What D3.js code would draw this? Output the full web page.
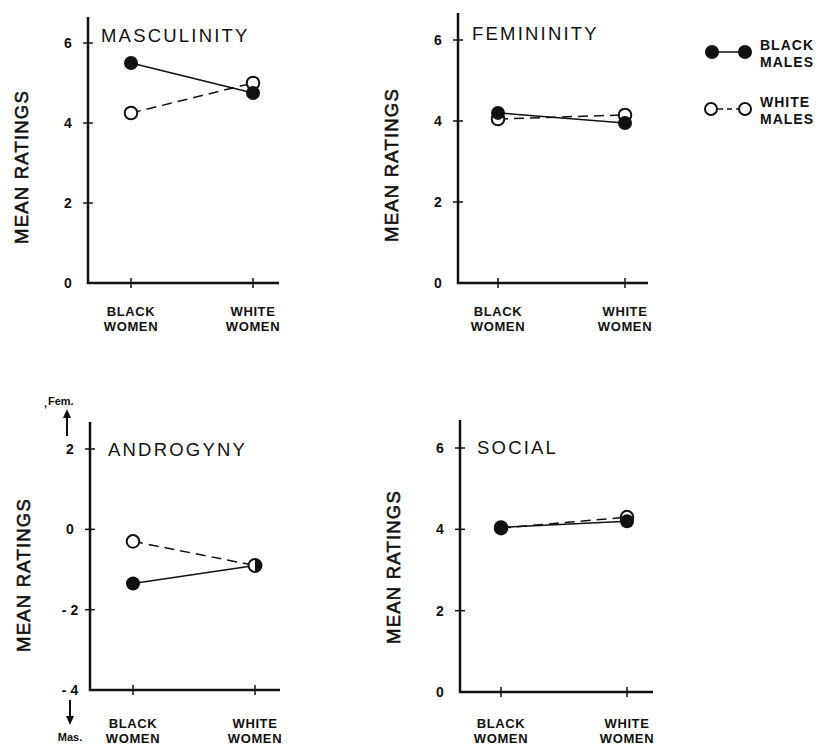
<!DOCTYPE html>
<html><head><meta charset="utf-8">
<script src="https://cdn.jsdelivr.net/npm/d3@7"></script>
<style>body{margin:0;background:#fff}svg{display:block}</style>
</head><body>
<svg id="c" width="820" height="745"></svg>
<script>
const categories = ["BLACK WOMEN", "WHITE WOMEN"];
const seriesNames = ["BLACK MALES", "WHITE MALES"];
const panelTitles = ["MASCULINITY", "FEMININITY", "ANDROGYNY", "SOCIAL"];
const masculinityBlack = [5.5, 4.75];
const masculinityWhite = [4.25, 5.0];
const femininityBlack = [4.2, 3.95];
const femininityWhite = [4.05, 4.15];
const androgynyBlack = [-1.35, -0.9];
const androgynyWhite = [-0.3, -0.9];
const socialBlack = [4.05, 4.2];
const socialWhite = [4.03, 4.3];
const ticksPos = [0, 2, 4, 6];
const ticksAndro = [-4, -2, 0, 2];
const yLabel = "MEAN RATINGS";

const svg = d3.select("#c");
const ink = "#111";
const FONT = "'Liberation Sans', Arial, sans-serif";

const panels = [
  {title: panelTitles[0], black: masculinityBlack, white: masculinityWhite, ticks: ticksPos, dom: [0, 6],
   ax: 88, yr: [283, 43], top: 17, xend: 279, cx: [131, 253], titleX: 101, titleY: 42, labY: 167, labX: 21, catY: 311},
  {title: panelTitles[1], black: femininityBlack, white: femininityWhite, ticks: ticksPos, dom: [0, 6],
   ax: 458, yr: [283, 40], top: 13, xend: 648, cx: [498, 625], titleX: 472, titleY: 40, labY: 165, labX: 391, catY: 311},
  {title: panelTitles[2], black: androgynyBlack, white: androgynyWhite, ticks: ticksAndro, dom: [-4, 2],
   ax: 90, yr: [690, 449], top: 422, xend: 280, cx: [133, 255], titleX: 108, titleY: 456, labY: 575, labX: 23, catY: 723, arrows: true},
  {title: panelTitles[3], black: socialBlack, white: socialWhite, ticks: ticksPos, dom: [0, 6],
   ax: 460, yr: [692, 448], top: 420, xend: 653, cx: [501, 627], titleX: 477, titleY: 454, labY: 567, labX: 393, catY: 723}
];

panels.forEach((p, pi) => {
  const g = svg.append("g");
  const y = d3.scaleLinear().domain(p.dom).range(p.yr);
  const x = d3.scalePoint().domain(categories).range(p.cx);
  const base = p.yr[0];
  g.append("line").attr("x1", p.ax).attr("x2", p.ax).attr("y1", p.top).attr("y2", base + 1)
    .attr("stroke", ink).attr("stroke-width", 2.5);
  g.append("line").attr("x1", p.ax - 1).attr("x2", p.xend).attr("y1", base).attr("y2", base)
    .attr("stroke", ink).attr("stroke-width", 2.5);
  p.ticks.forEach(t => {
    if (t !== p.dom[0]) {
      g.append("line").attr("x1", p.ax - 5).attr("x2", p.ax + 5).attr("y1", y(t)).attr("y2", y(t))
        .attr("stroke", ink).attr("stroke-width", 1.5);
    }
    g.append("text").attr("x", p.ax - 20).attr("y", y(t)).attr("dy", "0.36em")
      .attr("text-anchor", "middle").attr("font-family", FONT).attr("font-weight", "bold")
      .attr("font-size", 14).attr("fill", ink)
      .text(t < 0 ? "- " + Math.abs(t) : String(t));
  });
  categories.forEach(c => {
    g.append("line").attr("x1", x(c)).attr("x2", x(c)).attr("y1", base - 5).attr("y2", base + 5)
      .attr("stroke", ink).attr("stroke-width", 1.5);
    c.split(" ").forEach((w, i) => {
      g.append("text").attr("x", x(c)).attr("y", p.catY + i * 15).attr("dy", "0.36em")
        .attr("text-anchor", "middle").attr("font-family", FONT).attr("font-weight", "bold")
        .attr("font-size", 13).attr("letter-spacing", 0.6).attr("fill", ink).text(w);
    });
  });
  g.append("text").attr("x", p.titleX).attr("y", p.titleY).attr("font-family", FONT)
    .attr("font-size", 18.5).attr("letter-spacing", 2.2).attr("fill", ink).text(p.title);
  g.append("text").attr("transform", `translate(${p.labX},${p.labY}) rotate(-90)`)
    .attr("text-anchor", "middle").attr("dy", "0.36em").attr("font-family", FONT)
    .attr("font-size", 18.5).attr("letter-spacing", 1.2).attr("stroke", ink).attr("stroke-width", 0.6)
    .attr("fill", ink).text(yLabel);

  const line = d3.line().x((d, i) => x(categories[i])).y(d => y(d));
  g.append("path").attr("d", line(p.white)).attr("fill", "none").attr("stroke", ink)
    .attr("stroke-width", 1.5).attr("stroke-dasharray", "10,6");
  g.append("path").attr("d", line(p.black)).attr("fill", "none").attr("stroke", ink)
    .attr("stroke-width", 1.5);
  categories.forEach((c, i) => {
    const same = p.black[i] === p.white[i];
    if (same) {
      const cx = x(c), cy = y(p.black[i]), r = 6.5;
      g.append("circle").attr("cx", cx).attr("cy", cy).attr("r", r).attr("fill", "#fff")
        .attr("stroke", ink).attr("stroke-width", 2);
      g.append("path").attr("d", `M${cx},${cy - r} A${r},${r} 0 0 1 ${cx},${cy + r} Z`).attr("fill", ink);
    } else {
      g.append("circle").attr("cx", x(c)).attr("cy", y(p.white[i])).attr("r", 6.3).attr("fill", "#fff")
        .attr("stroke", ink).attr("stroke-width", 2);
    }
  });
  categories.forEach((c, i) => {
    if (p.black[i] !== p.white[i]) {
      g.append("circle").attr("cx", x(c)).attr("cy", y(p.black[i])).attr("r", 7).attr("fill", ink);
    }
  });

  if (p.arrows) {
    g.append("text").attr("x", 44).attr("y", 407).attr("font-family", FONT).attr("font-size", 11)
      .attr("font-weight", "bold").attr("fill", ink).text(",");
    g.append("text").attr("x", 48).attr("y", 405).attr("font-family", FONT).attr("font-size", 11)
      .attr("font-weight", "bold").attr("fill", ink).text("Fem.");
    g.append("line").attr("x1", 67).attr("x2", 67).attr("y1", 436).attr("y2", 416).attr("stroke", ink).attr("stroke-width", 2);
    g.append("path").attr("d", "M63,418 L67,409 L71,418 Z").attr("fill", ink);
    g.append("line").attr("x1", 70).attr("x2", 70).attr("y1", 700).attr("y2", 718).attr("stroke", ink).attr("stroke-width", 2);
    g.append("path").attr("d", "M66,716 L70,725 L74,716 Z").attr("fill", ink);
    g.append("text").attr("x", 70).attr("y", 741).attr("text-anchor", "middle").attr("font-family", FONT)
      .attr("font-size", 11).attr("font-weight", "bold").attr("fill", ink).text("Mas.");
  }
});

const lg = svg.append("g");
lg.append("line").attr("x1", 712).attr("x2", 745).attr("y1", 52).attr("y2", 52).attr("stroke", ink).attr("stroke-width", 1.5);
[712, 745].forEach(cx => lg.append("circle").attr("cx", cx).attr("cy", 52).attr("r", 7).attr("fill", ink));
lg.append("line").attr("x1", 718).attr("x2", 739).attr("y1", 109).attr("y2", 109).attr("stroke", ink)
  .attr("stroke-width", 1.5).attr("stroke-dasharray", "5,4");
[711, 745].forEach(cx => lg.append("circle").attr("cx", cx).attr("cy", 109).attr("r", 6).attr("fill", "#fff")
  .attr("stroke", ink).attr("stroke-width", 2));
[[seriesNames[0], 45], [seriesNames[1], 102]].forEach(([n, yy]) => {
  n.split(" ").forEach((w, i) => {
    lg.append("text").attr("x", 760).attr("y", yy + i * 17).attr("dy", "0.36em").attr("font-family", FONT)
      .attr("font-weight", "bold").attr("font-size", 14).attr("letter-spacing", 1).attr("fill", ink).text(w);
  });
});
</script>
</body></html>
